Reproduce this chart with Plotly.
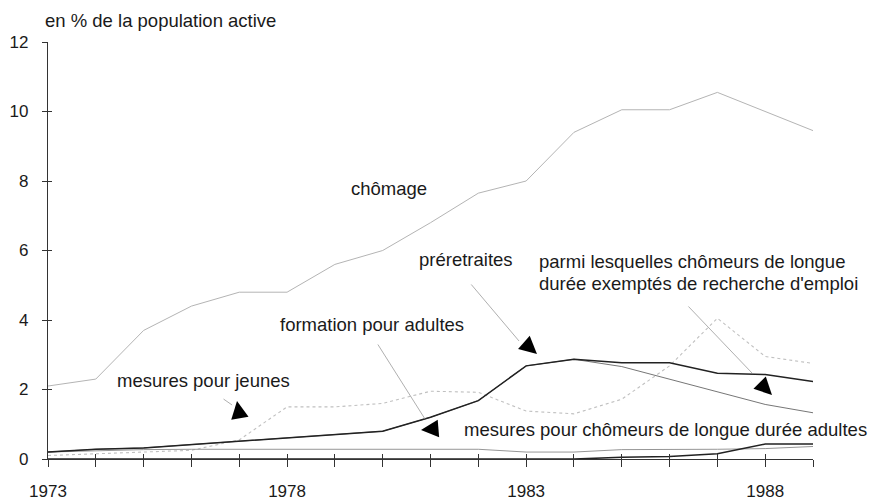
import plotly.graph_objects as go

years = list(range(1973, 1990))
tick_labels = ["1973" if y == 1973 else "1978" if y == 1978 else "1983" if y == 1983 else "1988" if y == 1988 else "" for y in years]

chomage = [2.1, 2.3, 3.7, 4.4, 4.8, 4.8, 5.6, 6.0, 6.8, 7.65, 8.0, 9.4, 10.05, 10.05, 10.55, 10.0, 9.45]
mesures_jeunes = [0.1, 0.15, 0.2, 0.25, 0.55, 1.5, 1.5, 1.6, 1.95, 1.92, 1.38, 1.3, 1.72, 2.68, 4.05, 2.95, 2.75]
preretraites = [0.2, 0.28, 0.32, 0.42, 0.5, 0.6, 0.7, 0.8, 1.2, 1.68, 2.68, 2.87, 2.77, 2.77, 2.47, 2.43, 2.23]
formation_adultes = [0.2, 0.28, 0.32, 0.42, 0.5, 0.6, 0.7, 0.8, 1.2, 1.68, 2.68, 2.87, 2.66, 2.3, 1.95, 1.57, 1.33]
chomeurs_exemptes = [0.2, 0.24, 0.27, 0.28, 0.28, 0.28, 0.28, 0.28, 0.28, 0.28, 0.2, 0.2, 0.27, 0.27, 0.28, 0.3, 0.36]
mesures_cld_adultes = [0, 0, 0, 0, 0, 0, 0, 0, 0, 0, 0, 0, 0.05, 0.07, 0.15, 0.43, 0.43]

FONT = "Liberation Sans, Arial, sans-serif"
TXT = "#1a1a1a"

fig = go.Figure()
fig.add_trace(go.Scatter(x=years, y=chomage, mode="lines", name="chômage",
                         line=dict(color="#b4b4b4", width=1)))
fig.add_trace(go.Scatter(x=years, y=mesures_jeunes, mode="lines", name="mesures pour jeunes",
                         line=dict(color="#c0c0c0", width=1.1, dash="dot")))
fig.add_trace(go.Scatter(x=years, y=chomeurs_exemptes, mode="lines", name="chômeurs exemptés",
                         line=dict(color="#8a8a8a", width=0.9)))
fig.add_trace(go.Scatter(x=years, y=formation_adultes, mode="lines", name="formation pour adultes",
                         line=dict(color="#666666", width=0.9)))
fig.add_trace(go.Scatter(x=years, y=preretraites, mode="lines", name="préretraites",
                         line=dict(color="#222222", width=1.5)))
fig.add_trace(go.Scatter(x=years, y=mesures_cld_adultes, mode="lines", name="mesures pour chômeurs de longue durée adultes",
                         line=dict(color="#222222", width=1.6)))
# dummy trace for overlay axes (inner half of crossing ticks)
fig.add_trace(go.Scatter(x=[years[0]], y=[0], xaxis="x2", yaxis="y2", mode="markers",
                         marker=dict(opacity=0), hoverinfo="skip", showlegend=False))

annotations = []
def label(x, y, text, ref="x", yref="y"):
    annotations.append(dict(x=x, y=y, xref=ref, yref=yref, text=text, showarrow=False,
                            xanchor="left", yanchor="middle",
                            font=dict(family=FONT, size=18.5, color=TXT)))

label(-0.0065, 1.0504, "en % de la population active", ref="paper", yref="paper")
label(1979.30, 7.77, "chômage")
label(1980.72, 5.73, "préretraites")
label(1983.23, 5.67, "parmi lesquelles chômeurs de longue")
label(1983.23, 5.06, "durée exemptés de recherche d'emploi")
label(1977.81, 3.88, "formation pour adultes")
label(1974.40, 2.27, "mesures pour jeunes")
label(1981.66, 0.86, "mesures pour chômeurs de longue durée adultes")

def thin_line(x0, y0, x1, y1):
    annotations.append(dict(x=x1, y=y1, ax=x0, ay=y0, xref="x", yref="y", axref="x", ayref="y",
                            text="", showarrow=True, arrowhead=0, arrowwidth=0.8, arrowcolor="#9a9a9a"))

thin_line(1976.64, 1.755, 1976.85, 1.554)
thin_line(1979.88, 3.338, 1980.885, 1.151)
thin_line(1981.826, 5.065, 1982.851, 3.396)
thin_line(1986.365, 4.432, 1987.724, 2.475)

def triangle(x, y, ax, ay):
    annotations.append(dict(x=x, y=y, ax=ax, ay=ay, xref="x", yref="y",
                            text="", showarrow=True, arrowhead=2, arrowsize=3.5, arrowwidth=1,
                            arrowcolor="#000000"))

triangle(1976.953, 1.669, 2, 12)
triangle(1980.801, 0.835, 12, -1)
triangle(1983.227, 3.022, -9, -8)
triangle(1988.142, 1.842, -9, -9)

fig.update_layout(
    width=869, height=500,
    margin=dict(l=48, r=56, t=42, b=41),
    paper_bgcolor="white", plot_bgcolor="white",
    showlegend=False,
    font=dict(family=FONT, color=TXT),
    annotations=annotations,
    xaxis=dict(range=[1973, 1989], tickvals=years, ticktext=tick_labels, automargin=False,
               ticks="outside", ticklen=7, tickwidth=1, tickcolor="#333",
               showline=True, linecolor="#333", linewidth=1.2,
               showgrid=False, zeroline=False, ticklabelstandoff=9,
               tickfont=dict(family=FONT, size=17, color=TXT)),
    yaxis=dict(range=[0, 12], tickvals=[0, 2, 4, 6, 8, 10, 12], automargin=False,
               ticks="outside", ticklen=5, tickwidth=1, tickcolor="#333",
               showline=True, linecolor="#333", linewidth=1.2,
               showgrid=False, zeroline=False, ticklabelstandoff=10,
               tickfont=dict(family=FONT, size=17, color=TXT)),
    xaxis2=dict(range=[1973, 1989], overlaying="x", anchor="y2", tickvals=years, automargin=False,
                ticks="inside", ticklen=5, tickwidth=1, tickcolor="#333",
                showticklabels=False, showline=False, showgrid=False, zeroline=False),
    yaxis2=dict(range=[0, 12], overlaying="y", anchor="x2", tickvals=[0, 2, 4, 6, 8, 10, 12], automargin=False,
                ticks="inside", ticklen=4, tickwidth=1, tickcolor="#333",
                showticklabels=False, showline=False, showgrid=False, zeroline=False),
)

fig.write_html("out.html", config={"displayModeBar": False},
               post_script="document.body.style.margin='0';document.body.style.padding='0';document.body.style.overflow='hidden';")
